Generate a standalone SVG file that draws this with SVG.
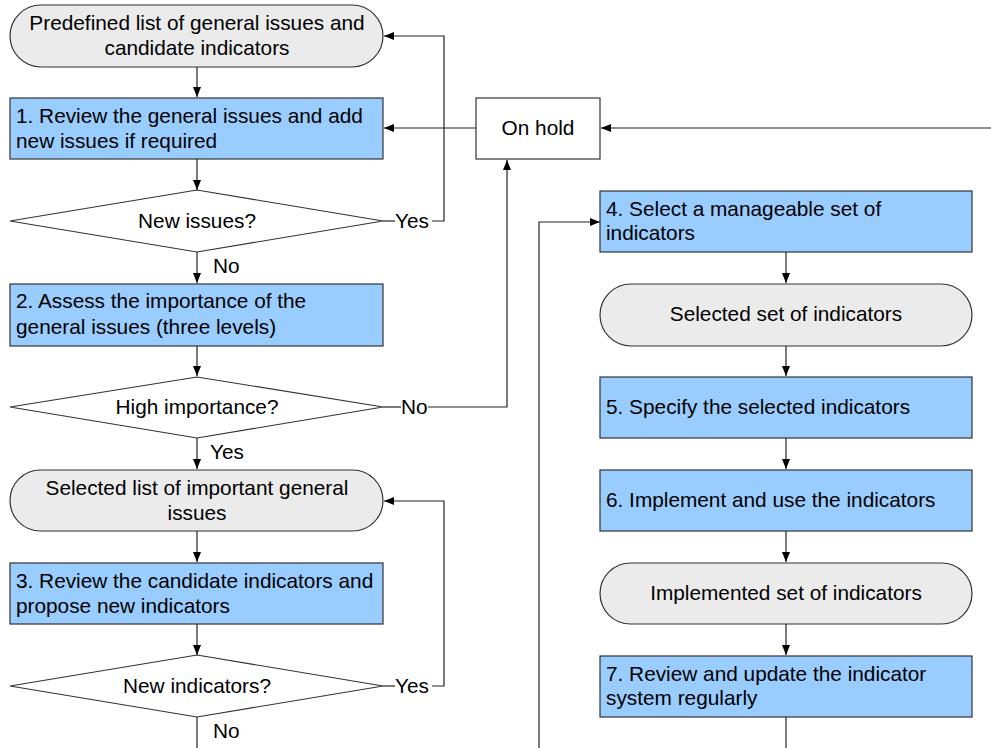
<svg xmlns="http://www.w3.org/2000/svg" width="991" height="748" viewBox="0 0 991 748">
<style>
text{font-family:"Liberation Sans",Arial,sans-serif;font-size:20.8px;fill:#000}
.c{text-anchor:middle}
.term{fill:#EBEBEB;stroke:#333;stroke-width:1.2}
.box{fill:#99CCFF;stroke:#333;stroke-width:1.2}
.plain{fill:#fff;stroke:#333;stroke-width:1.2}
.ln{fill:none;stroke:#222;stroke-width:1.2}
.ar{marker-end:url(#ah)}
</style>
<defs>
<marker id="ah" viewBox="0 0 10 10" refX="10" refY="5" markerWidth="10" markerHeight="10" markerUnits="userSpaceOnUse" orient="auto">
<path d="M0,1 L10,5 L0,9 Z" fill="#000"/>
</marker>
</defs>
<rect width="991" height="748" fill="#fff"/>
<g id="t1"><rect class="term" x="10" y="5" width="373" height="62" rx="31"/><text class="c" x="197" y="30">Predefined list of general issues and</text><text class="c" x="197" y="55">candidate indicators</text></g>
<g id="b1"><rect class="box" x="10" y="98" width="373" height="61"/><text x="16" y="123">1. Review the general issues and add</text><text x="16" y="148">new issues if required</text></g>
<g id="d1"><polygon class="plain" points="10,221 197,190 383,221 197,252"/><text class="c" x="197" y="228">New issues?</text></g>
<g id="b2"><rect class="box" x="10" y="284" width="373" height="62"/><text x="16" y="308">2. Assess the importance of the</text><text x="16" y="334">general issues (three levels)</text></g>
<g id="d2"><polygon class="plain" points="10,407 197,377 383,407 197,438"/><text class="c" x="197" y="414">High importance?</text></g>
<g id="t2"><rect class="term" x="10" y="470" width="373" height="61" rx="30.5"/><text class="c" x="197" y="495">Selected list of important general</text><text class="c" x="197" y="520">issues</text></g>
<g id="b3"><rect class="box" x="10" y="563" width="373" height="61"/><text x="16" y="588">3. Review the candidate indicators and</text><text x="16" y="613">propose new indicators</text></g>
<g id="d3"><polygon class="plain" points="10,686 197,655 383,686 197,717"/><text class="c" x="197" y="693">New indicators?</text></g>
<g id="hold"><rect class="plain" x="476" y="98" width="124" height="61"/><text class="c" x="538" y="135">On hold</text></g>
<g id="b4"><rect class="box" x="600" y="191" width="372" height="61"/><text x="606" y="216">4. Select a manageable set of</text><text x="606" y="240">indicators</text></g>
<g id="t3"><rect class="term" x="600" y="284" width="372" height="62" rx="31"/><text class="c" x="786" y="321">Selected set of indicators</text></g>
<g id="b5"><rect class="box" x="600" y="377" width="372" height="61"/><text x="606" y="414">5. Specify the selected indicators</text></g>
<g id="b6"><rect class="box" x="600" y="470" width="372" height="61"/><text x="606" y="507">6. Implement and use the indicators</text></g>
<g id="t4"><rect class="term" x="600" y="563" width="372" height="61" rx="30.5"/><text class="c" x="786" y="600">Implemented set of indicators</text></g>
<g id="b7"><rect class="box" x="600" y="656" width="372" height="61"/><text x="606" y="681">7. Review and update the indicator</text><text x="606" y="705">system regularly</text></g>
<g id="connectors">
<path class="ln ar" d="M197,67 V97"/>
<path class="ln ar" d="M197,159 V190"/>
<path class="ln" d="M383,221 H395"/>
<text x="395" y="228">Yes</text>
<path class="ln ar" d="M432,221 H444 V36 H384"/>
<path class="ln ar" d="M197,252 V283"/>
<text x="213" y="273">No</text>
<path class="ln ar" d="M197,346 V376"/>
<path class="ln" d="M383,407 H401"/>
<text x="401" y="414">No</text>
<path class="ln ar" d="M428,407 H507 V160"/>
<path class="ln ar" d="M476,128 H384"/>
<path class="ln ar" d="M991,128 H601"/>
<path class="ln ar" d="M197,438 V469"/>
<text x="210" y="459">Yes</text>
<path class="ln ar" d="M197,531 V562"/>
<path class="ln ar" d="M197,624 V655"/>
<path class="ln" d="M383,686 H395"/>
<text x="395" y="693">Yes</text>
<path class="ln ar" d="M432,686 H444 V501 H384"/>
<path class="ln" d="M197,717 V748"/>
<text x="213" y="738">No</text>
<path class="ln ar" d="M539,748 V222 H600"/>
<path class="ln ar" d="M786,252 V283"/>
<path class="ln ar" d="M786,346 V376"/>
<path class="ln ar" d="M786,438 V469"/>
<path class="ln ar" d="M786,531 V562"/>
<path class="ln ar" d="M786,624 V655"/>
<path class="ln" d="M786,717 V748"/>
</g>
</svg>
